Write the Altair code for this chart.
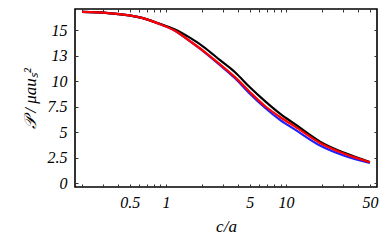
import altair as alt
import pandas as pd

# c/a values (log axis)
c_vals = [0.2, 0.33, 0.63, 0.86, 1.19, 1.58, 2.11, 2.82, 3.76, 5.0, 6.68, 8.91, 11.9, 19.2, 31.0, 50.0]
black_vals = [16.82, 16.70, 16.23, 15.71, 15.09, 14.29, 13.30, 12.08, 10.90, 9.43, 8.07, 6.84, 5.80, 4.10, 2.97, 2.10]
red_vals = [16.82, 16.70, 16.23, 15.69, 14.97, 13.96, 12.88, 11.67, 10.42, 8.96, 7.59, 6.51, 5.57, 3.96, 2.88, 2.08]
blue_vals = [16.82, 16.70, 16.23, 15.69, 14.97, 13.94, 12.83, 11.60, 10.31, 8.80, 7.42, 6.23, 5.27, 3.71, 2.69, 2.01]

x_ticks = [0.2, 0.3, 0.4, 0.5, 0.6, 0.7, 0.8, 0.9, 1, 2, 3, 4, 5, 6, 7, 8, 9, 10, 20, 30, 40, 50]
x_labels = [0.5, 1, 5, 10, 50]
y_ticks = [0, 2.5, 5, 7.5, 10, 12.5, 15]

series_colors = {"blue": "#1f1fff", "black": "#000000", "red": "#ff0000"}

df = pd.DataFrame({
    "c": c_vals * 3,
    "P": blue_vals + black_vals + red_vals,
    "s": ["blue"] * len(c_vals) + ["black"] * len(c_vals) + ["red"] * len(c_vals),
})

xscale = alt.Scale(type="log", domain=[0.1746, 57.3], nice=False)
yscale = alt.Scale(domain=[-0.35, 17.1], nice=False, zero=False)

font = "Liberation Serif"
label_expr = "indexof([0.5,1,5,10,50], datum.value) >= 0 ? datum.label : ''"

x_axis_main = alt.Axis(
    values=x_ticks, labelExpr=label_expr, format="~g", title="c/a",
    domain=False, grid=False, offset=-3, tickSize=3, tickColor="#333",
    labelPadding=7, labelFont=font, labelFontStyle="italic", labelFontSize=16,
    labelColor="black", titleFont=font, titleFontStyle="italic", titleFontSize=17,
    titleFontWeight="normal", titleColor="black", titlePadding=8, labelFlush=False,
)
y_axis_main = alt.Axis(
    values=y_ticks, format="~g", title="𝒫 / μauₛ²",
    domain=False, grid=False, offset=-3, tickSize=3, tickColor="#333",
    labelPadding=8, labelFont=font, labelFontStyle="italic", labelFontSize=16,
    labelColor="black", titleFont=font, titleFontStyle="italic", titleFontSize=17,
    titleFontWeight="normal", titleColor="black", titlePadding=8, labelFlush=False,
)
x_axis_top = alt.Axis(orient="top", values=x_ticks, labels=False, title=None, domain=False,
                      grid=False, offset=-3, tickSize=3, tickColor="#333")
y_axis_right = alt.Axis(orient="right", values=y_ticks, labels=False, title=None, domain=False,
                        grid=False, offset=-3, tickSize=3, tickColor="#333")

def line_layer(name, xaxis, yaxis):
    return alt.Chart(df).transform_filter(alt.datum.s == name).mark_line(
        color=series_colors[name], strokeWidth=2.2, interpolate="monotone"
    ).encode(
        x=alt.X("c:Q", scale=xscale, axis=xaxis),
        y=alt.Y("P:Q", scale=yscale, axis=yaxis),
    )

blue = line_layer("blue", x_axis_main, y_axis_main)
black = line_layer("black", None, None)
red = line_layer("red", None, None)
frame_axes = alt.Chart(df).mark_point(opacity=0).encode(
    x=alt.X("c:Q", scale=xscale, axis=x_axis_top),
    y=alt.Y("P:Q", scale=yscale, axis=y_axis_right),
)

chart = alt.layer(blue, black, red, frame_axes).resolve_axis(
    x="independent", y="independent"
).properties(
    width=302, height=178,
    autosize=alt.AutoSizeParams(type="none"),
    padding={"left": 67, "top": 1, "right": 3, "bottom": 52},
).configure_view(stroke="black", strokeWidth=1.6)

chart.save("out.html", embed_options={"renderer": "svg", "actions": False})
